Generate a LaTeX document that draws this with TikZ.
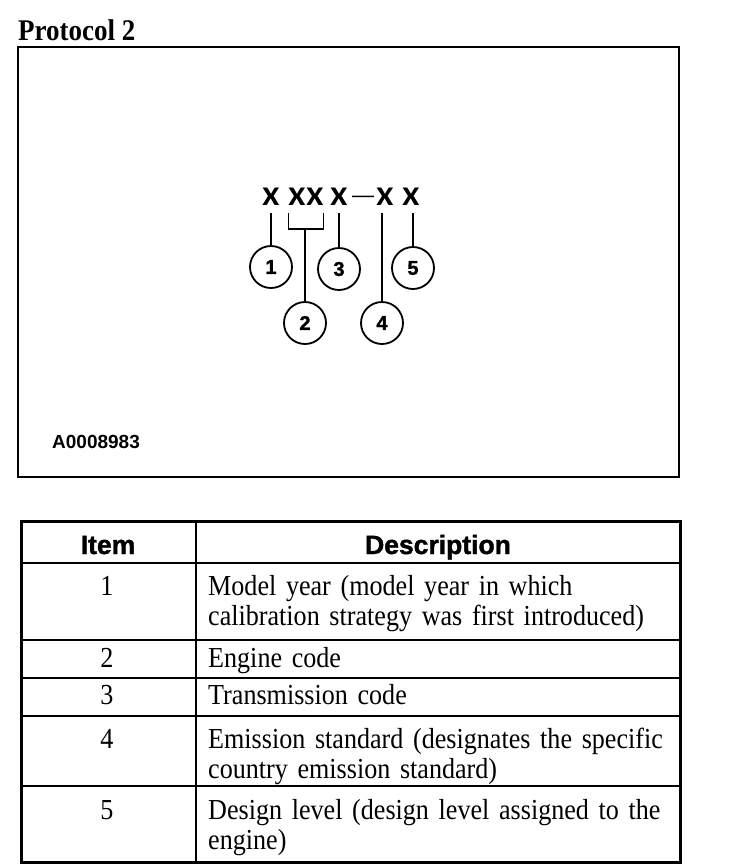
\documentclass[tikz,border=0pt]{standalone}
\usepackage{fontspec}
\setmainfont{Liberation Serif}
\setsansfont{Liberation Sans}
\newfontfamily\heavysans{Lato Black}
\newfontfamily\headsans{Liberation Sans Bold}[FakeBold=1.5]
\newfontfamily\titlefont{Liberation Serif Bold}[FakeStretch=0.9]
\newfontfamily\tablefont{Liberation Serif}[FakeStretch=0.9, WordSpace=0.8]

\begin{document}
\begin{tikzpicture}[x=1pt, y=-1pt,
      every node/.style={inner sep=0pt},
      codechar/.style={font=\heavysans\fontsize{24}{24}\selectfont},
      callout/.style={draw, circle, line width=1.8pt, minimum size=42pt,
                      font=\headsans\fontsize{20}{20}\selectfont},
      leader/.style={line width=1.4pt},
      itemno/.style={anchor=base, font=\tablefont\fontsize{29}{30}\selectfont},
      celltext/.style={anchor=base west, text width=470pt, align=left,
                       font=\tablefont\fontsize{29}{30}\selectfont},
      headtext/.style={anchor=base, font=\headsans\fontsize{26.5}{26}\selectfont}]
    \useasboundingbox (0,0) rectangle (736,868);

    % title and figure frame
    \node[anchor=base west, font=\titlefont\fontsize{30}{30}\selectfont] (title) at (18,40) {Protocol 2};
    \draw[line width=2.5pt] (18,47) rectangle (679,477);
    \node[anchor=base west, font=\sffamily\bfseries\fontsize{19}{20}\selectfont] (figid) at (52,448) {A0008983};

    % code string  X XX X-X X
    \node[codechar] (x1)  at (271,197) {X};
    \node[codechar] (x2a) at (297,197) {X};
    \node[codechar] (x2b) at (315,197) {X};
    \node[codechar] (x3)  at (339,197) {X};
    \node[font=\sffamily\fontsize{22}{22}\selectfont] (dash) at (363,199) {—};
    \node[codechar] (x4)  at (385,197) {X};
    \node[codechar] (x5)  at (411,197) {X};

    % callouts
    \node[callout] (c1) at (271,267) {1};
    \node[callout] (c2) at (305,323) {2};
    \node[callout] (c3) at (339,269) {3};
    \node[callout] (c4) at (382,323) {4};
    \node[callout] (c5) at (413,268) {5};

    % leaders -- all start at the same height just below the letters
    \coordinate (ldtop) at (0,213);
    \draw[leader] (c1.north) -- (c1.north |- ldtop);
    \draw[leader] (c3.north) -- (c3.north |- ldtop);
    \draw[leader] (c4.north) -- (c4.north |- ldtop);
    \draw[leader] (c5.north) -- (c5.north |- ldtop);
    % bracket under XX, tapped in the middle for item 2
    \draw[leader] (x2a.south west |- ldtop) -- ++(0,16) coordinate (brl)
                  -- (brl -| x2b.south east) -- (x2b.south east |- ldtop);
    \draw[leader] (brl -| c2.north) -- (c2.north);

    % legend table
    \draw[line width=3pt] (21,521) rectangle (680,862);
    \foreach \yy in {563,640,678,716,786} {
      \draw[line width=2.6pt] (21,\yy) -- (680,\yy);
    }
    \draw[line width=2pt] (196,521) -- (196,862);

    \node[headtext] (hitem) at (108,554) {Item};
    \node[headtext] (hdesc) at (438,554) {Description};

    \node[itemno] (n1) at (107,595) {1};
    \node[celltext] (d1) at (208,595) {Model year (model year in which\\calibration strategy was first introduced)};
    \node[itemno] (n2) at (107,667) {2};
    \node[celltext] (d2) at (208,667) {Engine code};
    \node[itemno] (n3) at (107,704) {3};
    \node[celltext] (d3) at (208,704) {Transmission code};
    \node[itemno] (n4) at (107,748) {4};
    \node[celltext] (d4) at (208,748) {Emission standard (designates the specific\\country emission standard)};
    \node[itemno] (n5) at (107,819) {5};
    \node[celltext] (d5) at (208,819) {Design level (design level assigned to the\\engine)};
  \end{tikzpicture}
\end{document}
